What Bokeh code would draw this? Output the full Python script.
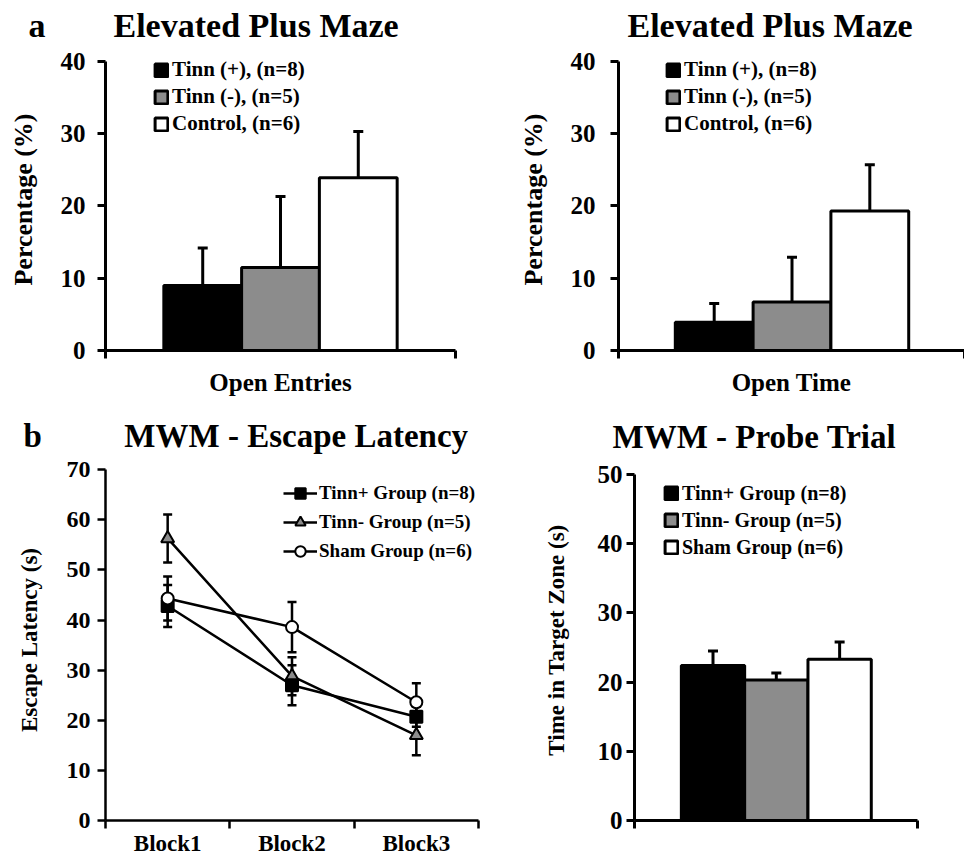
import numpy as np
from bokeh.plotting import figure
from bokeh.models import (ColumnDataSource, Range1d, FixedTicker, Whisker, TeeHead,
                          Legend, LegendItem, Title)
from bokeh.layouts import row, column
from bokeh.embed import file_html
from bokeh.resources import INLINE

SERIF = "Liberation Serif"
NBSP = "\u00a0"

# ---------------- data ----------------
epm_groups = ["Tinn (+), (n=8)", "Tinn (-), (n=5)", "Control, (n=6)"]
entries_mean = [9.0, 11.5, 23.9]
entries_sem = [5.2, 9.8, 6.4]
time_mean = [3.9, 6.7, 19.3]
time_sem = [2.6, 6.2, 6.4]
epm_yticks = [0, 10, 20, 30, 40]

bar_colors = ["#000000", "#8c8c8c", "#ffffff"]

blocks = ["Block1", "Block2", "Block3"]
mwm_groups = ["Tinn+ Group (n=8)", "Tinn- Group (n=5)", "Sham Group (n=6)"]
tinn_pos_lat = [42.8, 27.0, 20.7]
tinn_pos_sem = [4.2, 4.0, 2.0]
tinn_neg_lat = [56.3, 28.8, 17.0]
tinn_neg_sem = [4.8, 3.8, 4.0]
sham_lat = [44.3, 38.6, 23.6]
sham_sem = [4.4, 5.0, 3.8]
lat_yticks = [0, 10, 20, 30, 40, 50, 60, 70]

probe_mean = [22.4, 20.3, 23.3]
probe_sem = [2.1, 1.0, 2.5]
probe_yticks = [0, 10, 20, 30, 40, 50]


def title_geometry(size, baseline):
    """standoff and resulting frame top (px from figure top) for a title whose
    baseline should sit at `baseline` px from the figure top."""
    h = 1.107 * size
    d = 0.216 * size
    s = 2 * (baseline + d - 2 - h)
    return s, 2 + h + s


def ext_top(ymax, ymax_px, frame_top_px, bottom_px):
    scale = (bottom_px - ymax_px) / ymax
    return ymax + (ymax_px - frame_top_px) / scale


def base_fig(width, height, xr, yr, borders):
    p = figure(width=width, height=height, x_range=xr, y_range=yr,
               output_backend="svg", toolbar_location=None,
               min_border_left=borders[0], min_border_right=borders[1],
               min_border_top=borders[2], min_border_bottom=borders[3])
    p.xgrid.visible = False
    p.ygrid.visible = False
    p.outline_line_color = None
    p.background_fill_color = "white"
    p.border_fill_color = "white"
    return p


def style_title(p, text, size, offset, standoff):
    p.title.text = text
    p.title.text_font = SERIF
    p.title.text_font_style = "bold"
    p.title.text_font_size = f"{size}px"
    p.title.text_color = "black"
    p.title.align = "left"
    p.title.offset = offset
    p.title.standoff = standoff


def style_yaxis(p, ticks, label, tick_font, label_font, tick_standoff, label_standoff, lw):
    ax = p.yaxis[0]
    ax.ticker = FixedTicker(ticks=ticks)
    ax.bounds = (min(ticks), max(ticks))
    ax.axis_label = label
    ax.axis_label_text_font = SERIF
    ax.axis_label_text_font_style = "bold"
    ax.axis_label_text_font_size = label_font
    ax.axis_label_text_color = "black"
    ax.axis_label_standoff = label_standoff
    ax.major_label_text_font = SERIF
    ax.major_label_text_font_style = "bold"
    ax.major_label_text_font_size = tick_font
    ax.major_label_text_color = "black"
    ax.major_label_standoff = tick_standoff
    ax.axis_line_color = "black"
    ax.axis_line_width = lw
    ax.major_tick_line_color = "black"
    ax.major_tick_line_width = lw
    ax.major_tick_out = 8
    ax.major_tick_in = 0
    ax.minor_tick_line_color = None


def style_xaxis_plain(p, xr, label, lw, label_font="25px", label_standoff=10):
    ax = p.xaxis[0]
    ax.ticker = FixedTicker(ticks=[], minor_ticks=[xr.start, xr.end])
    ax.axis_line_color = "black"
    ax.axis_line_width = lw
    ax.major_tick_out = 0
    ax.major_tick_in = 0
    ax.minor_tick_out = 8
    ax.minor_tick_in = 0
    ax.minor_tick_line_color = "black"
    ax.minor_tick_line_width = lw
    ax.major_label_text_font_size = "0px"
    if label:
        ax.axis_label = label
        ax.axis_label_text_font = SERIF
        ax.axis_label_text_font_style = "bold"
        ax.axis_label_text_font_size = label_font
        ax.axis_label_text_color = "black"
        ax.axis_label_standoff = label_standoff


def bar_panel(p, labels, means, sems, legend_loc, legend_font, label_h, spacing):
    x = np.arange(len(means)) + 0.5
    src = ColumnDataSource(dict(
        x=x, top=means, upper=np.array(means) + np.array(sems),
        color=bar_colors, label=labels))
    r = p.vbar(x="x", top="top", bottom=0, width=1.0, source=src,
               fill_color="color", line_color="black", line_width=3)
    w = Whisker(source=src, base="x", upper="upper", lower="top", dimension="height",
                line_color="black", line_width=3,
                upper_head=TeeHead(size=10, line_width=3, line_color="black"),
                lower_head=None)
    p.add_layout(w)
    items = [LegendItem(label=lab, renderers=[r], index=i) for i, lab in enumerate(labels)]
    leg = Legend(items=items, location=legend_loc,
                 label_text_font=SERIF, label_text_font_style="bold",
                 label_text_font_size=legend_font, label_text_color="black",
                 glyph_width=16, glyph_height=16, label_height=label_h,
                 spacing=spacing, padding=0, margin=0, label_standoff=3,
                 background_fill_alpha=0, border_line_color=None)
    p.add_layout(leg)
    return p


# ---------------- panel a, left: open entries ----------------
s_top, f_top = title_geometry(34, 37)
y_end_top = ext_top(40, 62, f_top, 350)
xr1 = Range1d(-0.75, 3.75)
p1 = base_fig(482, 410, xr1, Range1d(0, y_end_top), (105, 27, 0, 60))
style_title(p1, "a" + NBSP * 8 + "Elevated Plus Maze", 34, -77, s_top)
style_yaxis(p1, epm_yticks, "Percentage (%)", "25px", "26px", 12, 20, 3)
style_xaxis_plain(p1, xr1, "Open Entries", 3)
bar_panel(p1, epm_groups, entries_mean, entries_sem, (48, 214), "21px", 22, 2)

# ---------------- panel a, right: open time ----------------
xr2 = Range1d(-0.73, 3.717)
p2 = base_fig(482, 410, xr2, Range1d(0, y_end_top), (136, 0, 0, 60))
style_title(p2, "Elevated Plus Maze", 34, 9, s_top)
style_yaxis(p2, epm_yticks, "Percentage (%)", "25px", "26px", 15, 20, 3)
style_xaxis_plain(p2, xr2, "Open Time", 3)
bar_panel(p2, epm_groups, time_mean, time_sem, (47, 214), "21px", 22, 2)

# ---------------- panel b, left: escape latency ----------------
s_bl, f_bl = title_geometry(33, 37)
xr3 = Range1d(0, 3)
p3 = base_fig(482, 448, xr3, Range1d(0, ext_top(70, 60, f_bl, 410)), (105, 4, 0, 38))
style_title(p3, "b" + NBSP * 10 + "MWM - Escape Latency", 33, -82, s_bl)
style_yaxis(p3, lat_yticks, "Escape Latency (s)", "24px", "23px", 7, 22, 2.5)
ax3 = p3.xaxis[0]
bx = np.arange(len(blocks)) + 0.5
ax3.ticker = FixedTicker(ticks=[float(v) for v in bx],
                         minor_ticks=[float(v) for v in np.arange(len(blocks) + 1)])
ax3.major_label_overrides = {float(v): b for v, b in zip(bx, blocks)}
ax3.major_tick_out = 0
ax3.major_tick_in = 0
ax3.minor_tick_out = 8
ax3.minor_tick_in = 0
ax3.minor_tick_line_color = "black"
ax3.minor_tick_line_width = 2.5
ax3.axis_line_color = "black"
ax3.axis_line_width = 2.5
ax3.major_label_text_font = SERIF
ax3.major_label_text_font_style = "bold"
ax3.major_label_text_font_size = "23px"
ax3.major_label_text_color = "black"
ax3.major_label_standoff = 2

series = [
    (tinn_pos_lat, tinn_pos_sem, "square", "black", 12),
    (tinn_neg_lat, tinn_neg_sem, "triangle", "#8c8c8c", 13),
    (sham_lat, sham_sem, "circle", "white", 12),
]
line_rs, mark_srcs = [], []
for vals, sems, mk, fc, sz in series:
    src = ColumnDataSource(dict(x=bx, y=vals,
                                upper=np.array(vals) + np.array(sems),
                                lower=np.array(vals) - np.array(sems)))
    lr = p3.line("x", "y", source=src, line_color="black", line_width=2.5)
    line_rs.append(lr)
    p3.add_layout(Whisker(source=src, base="x", upper="upper", lower="lower",
                          dimension="height", line_color="black", line_width=2.5,
                          upper_head=TeeHead(size=9, line_width=2.5, line_color="black"),
                          lower_head=TeeHead(size=9, line_width=2.5, line_color="black")))
    mark_srcs.append((src, mk, fc, sz))
mr = [None, None, None]
for idx in (1, 0, 2):
    src, mk, fc, sz = mark_srcs[idx]
    mr[idx] = p3.scatter("x", "y", source=src, marker=mk, size=sz, fill_color=fc,
                         line_color="black", line_width=2)
items3 = [LegendItem(label=mwm_groups[i], renderers=[line_rs[i], mr[i]]) for i in range(3)]
leg3 = Legend(items=items3, location=(178, 256),
              label_text_font=SERIF, label_text_font_style="bold",
              label_text_font_size="19px", label_text_color="black",
              glyph_width=34, glyph_height=26, label_height=26, spacing=3,
              padding=0, margin=0, label_standoff=2,
              background_fill_alpha=0, border_line_color=None)
p3.add_layout(leg3)

# ---------------- panel b, right: probe trial ----------------
s_br, f_br = title_geometry(33, 36)
xr4 = Range1d(-0.74, 3.73)
p4 = base_fig(482, 448, xr4, Range1d(0, ext_top(50, 63, f_br, 415)), (152, 47, 0, 33))
style_title(p4, "MWM - Probe Trial", 33, -22, s_br)
style_yaxis(p4, probe_yticks, "Time in Target Zone (s)", "25px", "23px", 4, 26, 3)
style_xaxis_plain(p4, xr4, None, 3)
bar_panel(p4, mwm_groups, probe_mean, probe_sem, (29, 261), "20px", 24, 3)

layout = column(row(p1, p2), row(p3, p4))
open("out.html", "w").write(file_html(layout, INLINE))
